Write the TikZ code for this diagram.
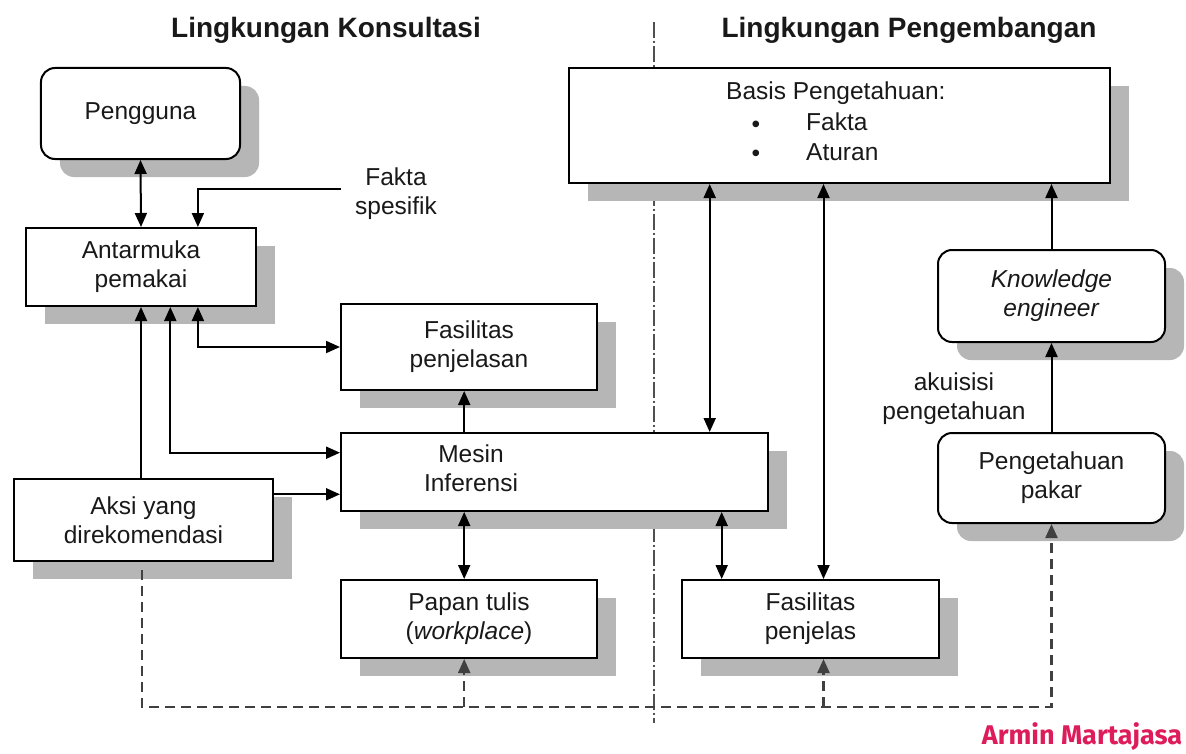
\documentclass[tikz,border=0pt]{standalone}
\usepackage{fontspec}
\setmainfont{Liberation Sans}
\newfontfamily\armfont{Fira Sans}
\usetikzlibrary{arrows.meta,shadows,calc}
\definecolor{shadowgray}{RGB}{182,182,182}
\definecolor{armin}{RGB}{222,28,92}
\definecolor{divgray}{RGB}{80,80,80}
\begin{document}
\begin{tikzpicture}[x=1bp,y=-1bp,
  every node/.style={font=\fontsize{24.5bp}{29bp}\selectfont, align=center, inner sep=0pt, text=black!90},
  box/.style={draw=black, line width=2bp, fill=white,
    general shadow={fill=shadowgray, draw=none, shadow xshift=19bp, shadow yshift=-18bp}},
  rbox/.style={box, rounded corners=14bp},
  titlefont/.style={font=\fontsize{28bp}{32bp}\selectfont\bfseries},
  conn/.style={line width=2bp, draw=black},
  tip/.tip={Triangle[length=14bp,width=12bp]},
  arr/.style={conn, -tip},
  dbl/.style={conn, tip-tip},
  dsh/.style={line width=2.2bp, draw=black!75, dash pattern=on 10bp off 6bp},
  divider/.style={line width=1.6bp, draw=divgray, dash pattern=on 16bp off 3bp on 2bp off 3bp}
]
\useasboundingbox (0,0) rectangle (1186,754);
\fill[white] (0,0) rectangle (1186,754);

% titles
\node[titlefont] (t1) at (326,30) {Lingkungan Konsultasi};
\node[titlefont] (t2) at (909,30) {Lingkungan Pengembangan};

% divider
\coordinate (dv1) at (654,22);
\coordinate (dv2) at (654,723);
\draw[divider] (dv1) -- (dv2);

% boxes
\node[rbox, minimum width=199bp, minimum height=91bp] (pengguna) at (140.5,113.5) {Pengguna};
\node[box, minimum width=230bp, minimum height=78bp] (antarmuka) at (141,267) {Antarmuka\\pemakai};
\node[box, minimum width=256bp, minimum height=86bp] (faspjn) at (469,347) {Fasilitas\\penjelasan};
\node[box, minimum width=427bp, minimum height=78bp] (mesin) at (554.5,472) {};
\node (mesintext) at (471,468) {Mesin\\Inferensi};
\node[box, minimum width=259bp, minimum height=82bp] (aksi) at (143.5,520) {Aksi yang\\direkomendasi};
\node[box, minimum width=256bp, minimum height=78bp] (papan) at (469,619) {Papan tulis\\(\textit{workplace})};
\node[box, minimum width=257bp, minimum height=78bp] (faspj) at (810.5,619) {Fasilitas\\penjelas};
\node[box, minimum width=541bp, minimum height=115bp] (basis) at (839.5,125.5) {};
\node[anchor=west] (bt0) at (726,93) {Basis Pengetahuan:};
\node (bb1) at (756,127) {\textbullet};
\node[anchor=west] (bt1) at (806,122) {Fakta};
\node (bb2) at (756,156) {\textbullet};
\node[anchor=west] (bt2) at (806,152) {Aturan};
\node[rbox, minimum width=227bp, minimum height=92bp] (ke) at (1051.5,296) {\textit{Knowledge}\\\textit{engineer}};
\node[rbox, minimum width=227bp, minimum height=90bp] (pp) at (1051.5,478) {Pengetahuan\\pakar};

% free labels
\node (fakta) at (396,194) {Fakta\\spesifik};
\node (akuisisi) at (954,399) {akuisisi\\pengetahuan};

% helper coordinates
\coordinate (fs) at (341,189);
\coordinate (c1) at (464.2,0);
\coordinate (c2) at (709.7,0);
\coordinate (c3) at (823.5,0);
\coordinate (c4) at (721.7,0);
\coordinate (a2) at (170.3,0);
\coordinate (a3) at (197.9,0);
\coordinate (ds) at (141.6,570);
\coordinate (dl) at (141.6,706.7);

% connectors
\draw[dbl] (pengguna.south) -- (antarmuka.north);
\draw[arr] (fs) -| (a3 |- antarmuka.north);
\draw[arr] (antarmuka.south |- aksi.north) -- (antarmuka.south);
\draw[dbl] (a2 |- antarmuka.south) |- ($(mesin.west)+(0,-19.3)$);
\draw[dbl] (a3 |- antarmuka.south) |- (faspjn.west);
\coordinate (ay) at ($(mesin.west)+(0,22.3)$);
\draw[arr] (ay -| aksi.east) -- (ay);
\draw[arr] (c1 |- mesin.north) -- (c1 |- faspjn.south);
\draw[dbl] (c1 |- mesin.south) -- (c1 |- papan.north);
\draw[dbl] (c2 |- basis.south) -- (c2 |- mesin.north);
\draw[dbl] (c3 |- basis.south) -- (c3 |- faspj.north);
\draw[dbl] (c4 |- mesin.south) -- (c4 |- faspj.north);
\draw[arr] (ke.north) -- (ke.north |- basis.south);
\draw[arr] (pp.north) -- (ke.south);

% dashed feedback
\draw[dsh, -tip] (ds) -- (dl) -| (pp.south);
\draw[dsh, -tip] (c1 |- dl) -- (c1 |- papan.south);
\draw[dsh, -tip] (c3 |- dl) -- (c3 |- faspj.south);

% signature
\node[font=\fontsize{27bp}{30bp}\selectfont\armfont\bfseries, text=armin] (armin) at (1082,737) {Armin Martajasa};
\end{tikzpicture}
\end{document}
